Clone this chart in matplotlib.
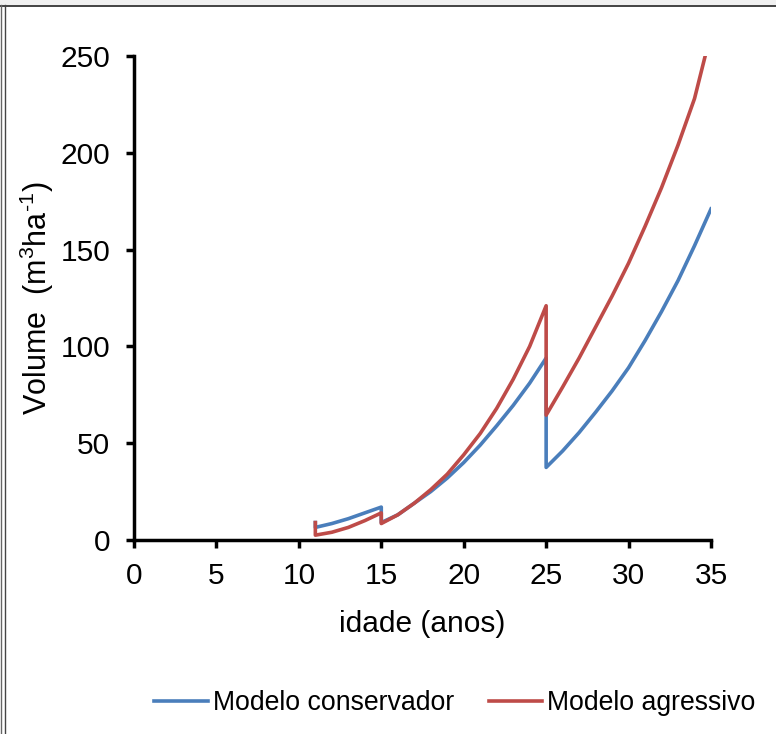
import matplotlib
matplotlib.use("Agg")
import matplotlib.pyplot as plt
from matplotlib.lines import Line2D
from matplotlib.patches import Rectangle

plt.rcParams['font.family'] = ['Liberation Sans', 'DejaVu Sans']
plt.rcParams['mathtext.fontset'] = 'custom'
plt.rcParams['mathtext.rm'] = 'Liberation Sans'
plt.rcParams['mathtext.it'] = 'Liberation Sans'

# idade (anos) and volume (m3/ha)
idade_cons = [11, 11, 12, 13, 14, 15, 15, 16, 17, 18, 19, 20, 21, 22, 23, 24, 25,
              25, 26, 27, 28, 29, 30, 31, 32, 33, 34, 35]
vol_cons = [9, 6.5, 8.5, 11, 14, 17, 9, 13, 19, 25, 32, 40, 49, 59, 69.5, 81, 94,
            37.5, 46, 55.5, 66, 77, 89, 103, 118, 134, 152, 171]

idade_agr = [11, 11, 12, 13, 14, 15, 15, 16, 17, 18, 19, 20, 21, 22, 23, 24, 25,
             25, 26, 27, 28, 29, 30, 31, 32, 33, 34, 35]
vol_agr = [9, 2.5, 4, 6.5, 10, 14, 8.5, 13, 19, 26, 34, 44, 55, 68, 83, 100, 121,
           64.5, 79, 94, 110, 126, 143, 162, 182, 204, 228, 262]

blue = '#4A7EBB'
red = '#BE4B48'

fig = plt.figure(figsize=(7.76, 7.34), dpi=100)
W, H = 776, 734
ax = fig.add_axes([134 / W, 1 - 540 / H, (711 - 134) / W, (540 - 56) / H])

ax.plot(idade_cons, vol_cons, color=blue, lw=2.6, solid_joinstyle='round')
ax.plot(idade_agr, vol_agr, color=red, lw=2.6, solid_joinstyle='round')

ax.set_xlim(0, 35)
ax.set_ylim(0, 250)
ax.set_xticks(range(0, 36, 5))
ax.set_yticks(range(0, 251, 50))
for s in ['top', 'right']:
    ax.spines[s].set_visible(False)
for s in ['left', 'bottom']:
    ax.spines[s].set_linewidth(2.5)
    ax.spines[s].set_capstyle('projecting')
ax.tick_params(axis='both', direction='out', length=6, width=2.5, labelsize=21.5)
ax.tick_params(axis='y', pad=11)
ax.tick_params(axis='x', pad=10)

ax.set_xlabel('idade (anos)', fontsize=21.5, labelpad=14)
ax.set_ylabel('Volume  (m$^3$ha$^{\u2010 1}$)', fontsize=22, labelpad=3)

handles = [Line2D([], [], color=blue, lw=2.6),
           Line2D([], [], color=red, lw=2.6)]
fig.legend(handles, ['Modelo conservador', 'Modelo agressivo'],
           loc='center', bbox_to_anchor=(455 / W, 1 - 703 / H), ncol=2,
           frameon=False, fontsize=19.2, handlelength=2.0, handletextpad=0.2,
           columnspacing=1.3)

# frame of the original screenshot
fig.patches.append(Rectangle((0, 1 - 5 / H), 1, 5 / H, transform=fig.transFigure,
                             facecolor='#f0f0f0', edgecolor='none'))
fig.lines.append(Line2D([0, 1], [1 - 5.5 / H] * 2, transform=fig.transFigure,
                        color='#222222', lw=1.2))
fig.lines.append(Line2D([1 / W] * 2, [0, 1 - 5 / H], transform=fig.transFigure,
                        color='#666666', lw=1.0))
fig.lines.append(Line2D([4.5 / W] * 2, [0, 1 - 5 / H], transform=fig.transFigure,
                        color='#444444', lw=1.0))

fig.savefig('out.png', dpi=100)
